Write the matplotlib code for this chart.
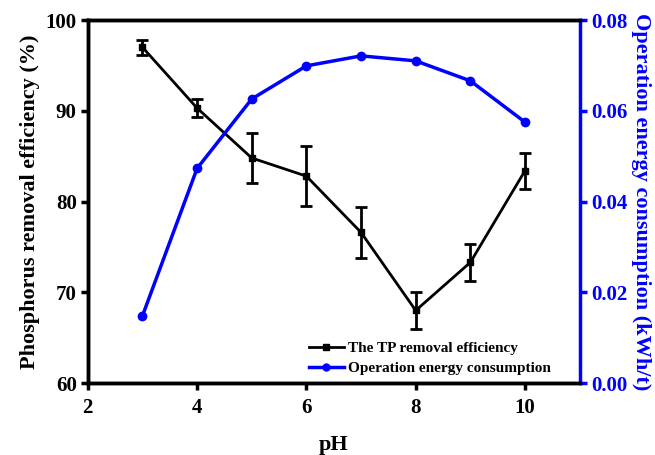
import matplotlib
matplotlib.use("Agg")
import matplotlib.pyplot as plt
from matplotlib.lines import Line2D

ph = [3, 4, 5, 6, 7, 8, 9, 10]
tp_eff = [97.0, 90.3, 84.8, 82.8, 76.6, 68.0, 73.3, 83.4]
tp_err = [0.8, 1.0, 2.7, 3.3, 2.8, 2.0, 2.0, 2.0]
energy = [0.0148, 0.0473, 0.0626, 0.0699, 0.0721, 0.0710, 0.0666, 0.0575]

plt.rcParams['font.family'] = ['Liberation Serif', 'DejaVu Serif']
plt.rcParams['font.weight'] = 'bold'

fig = plt.figure(figsize=(6.55, 4.55), dpi=100)
ax = fig.add_axes([0.134, 0.158, 0.751, 0.798])
ax2 = ax.twinx()

ax.errorbar(ph, tp_eff, yerr=tp_err, color='black', marker='s', markersize=5,
            linewidth=2, elinewidth=2, capsize=4, capthick=2, zorder=3)
ax2.plot(ph, energy, color='#0000ff', marker='o', markersize=6, linewidth=2.5)

ax.set_xlim(2, 11)
ax.set_ylim(60, 100)
ax2.set_ylim(0, 0.08)
ax.set_xticks([2, 4, 6, 8, 10])
ax.set_yticks([60, 70, 80, 90, 100])
ax2.set_yticks([0.00, 0.02, 0.04, 0.06, 0.08])
ax2.set_yticklabels(['0.00', '0.02', '0.04', '0.06', '0.08'])

for a in (ax, ax2):
    for s in a.spines.values():
        s.set_linewidth(2.5)
ax2.spines['right'].set_color('#0000ff')
ax.spines['right'].set_visible(False)

ax.tick_params(axis='both', direction='out', length=5, width=2.5, labelsize=15)
ax.tick_params(axis='x', pad=6)
ax.tick_params(axis='y', pad=3)
ax2.tick_params(axis='y', direction='out', length=5, width=2.5, labelsize=15,
                colors='#0000ff', pad=3)
for lab in ax.get_xticklabels() + ax.get_yticklabels() + ax2.get_yticklabels():
    lab.set_fontweight('bold')

ax.set_xlabel('pH', fontsize=16, fontweight='bold', labelpad=12)
ax.set_ylabel('Phosphorus removal efficiency (%)', fontsize=16, fontweight='bold', labelpad=4)
ax2.set_ylabel('Operation energy consumption (kWh/t)', fontsize=16, fontweight='bold',
               color='#0000ff', rotation=270, labelpad=17)

h1 = Line2D([], [], color='black', marker='s', markersize=4, linewidth=2)
h2 = Line2D([], [], color='#0000ff', marker='o', markersize=5, linewidth=2.5)
ax.legend([h1, h2], ['The TP removal efficiency', 'Operation energy consumption'],
          loc='lower right', bbox_to_anchor=(0.97, -0.016), frameon=False,
          prop={'family': 'Liberation Serif', 'weight': 'bold', 'size': 11},
          handlelength=2.3, handletextpad=0.3, labelspacing=0.4)

fig.savefig('out.png', dpi=100)
